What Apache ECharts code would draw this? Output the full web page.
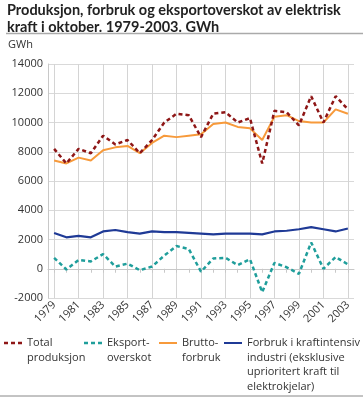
<!DOCTYPE html>
<html>
<head>
<meta charset="utf-8">
<script src="https://cdn.jsdelivr.net/npm/echarts@6/dist/echarts.min.js"></script>
<style>html,body{margin:0;padding:0;background:#fff}#c{width:363px;height:397px}</style>
</head>
<body>
<div id="c"></div>
<script>
const years = ['1979','1980','1981','1982','1983','1984','1985','1986','1987','1988','1989','1990','1991','1992','1993','1994','1995','1996','1997','1998','1999','2000','2001','2002','2003'];
const totalProduksjon = [8200,7200,8200,7900,9100,8500,8800,7900,8800,10000,10600,10500,9000,10600,10700,10000,10300,7200,10800,10700,9800,11800,10000,11800,10900];
const eksportoverskot = [750,-50,600,500,1000,150,350,-100,150,900,1550,1350,-200,700,750,250,650,-1600,400,100,-350,1800,0,800,300];
const bruttoforbruk = [7400,7200,7600,7400,8100,8300,8400,7900,8600,9100,9000,9100,9200,9900,10000,9700,9600,8800,10400,10500,10100,10000,10000,10900,10600];
const kraftintensiv = [2450,2150,2250,2150,2550,2650,2500,2400,2550,2500,2500,2450,2400,2350,2400,2400,2400,2350,2550,2600,2700,2850,2700,2550,2750];
const yTicks = {min: -2000, max: 14000, interval: 2000};

const FONT = '"Open Sans", sans-serif';
const names = {
  total: 'Total\nproduksjon',
  eksport: 'Eksport-\noverskot',
  brutto: 'Brutto-\nforbruk',
  ind: 'Forbruk i kraftintensiv\nindustri (eksklusive\nuprioritert kraft til\nelektrokjelar)'
};
const colors = {total: '#8e1616', eksport: '#1f9e9b', brutto: '#f79a3b', ind: '#1f3a96'};
const LH = 14.5;
const IW = 18;
// icon drawn on the first text line; tiny corner dots fix the icon box to the text block
function iconPath(lines, dashed, thick) {
  const H = lines * LH;
  const y0 = LH / 2 - thick / 2;
  let p = 'path://M0,0h0.01v0.01h-0.01z M' + (IW - 0.01) + ',' + (H - 0.01) + 'h0.01v0.01h-0.01z ';
  if (dashed) {
    [0, 7, 14].forEach(x => { p += 'M' + x + ',' + y0 + 'h4v' + thick + 'h-4z '; });
  } else {
    p += 'M0,' + y0 + 'h' + IW + 'v' + thick + 'h-' + IW + 'z';
  }
  return p;
}
function legendFor(name, left, lines, dashed, thick) {
  return {
    data: [{name: name, icon: iconPath(lines, dashed, thick)}],
    left: left,
    top: 343 - LH / 2,
    padding: 0,
    itemWidth: IW,
    itemHeight: lines * LH,
    selectedMode: false,
    textStyle: {fontFamily: FONT, fontSize: 11, color: '#333', lineHeight: LH}
  };
}

const chart = echarts.init(document.getElementById('c'), null, {renderer: 'canvas'});
chart.setOption({
  animation: false,
  backgroundColor: '#fff',
  title: [
    {text: 'Produksjon, forbruk og eksportoverskot av elektrisk\nkraft i oktober. 1979-2003. GWh', left: 7, top: 2, padding: 0,
     textStyle: {fontFamily: 'Lato, sans-serif', fontSize: 14.5, fontWeight: 'bold', color: '#222', lineHeight: 17}},
    {text: 'GWh', left: 8, top: 39, padding: 0, textStyle: {fontFamily: FONT, fontSize: 11, fontWeight: 'normal', color: '#333'}}
  ],
  graphic: [
    {type: 'line', shape: {x1: 6, y1: 33.5, x2: 363, y2: 33.5}, style: {stroke: '#aaa', lineWidth: 1.5}},
    {type: 'line', shape: {x1: 0, y1: 396, x2: 363, y2: 396}, style: {stroke: '#888', lineWidth: 1}}
  ],
  legend: [
    legendFor(names.total, 4, 2, true, 2.5),
    legendFor(names.eksport, 84, 2, true, 2.5),
    legendFor(names.brutto, 159, 2, false, 2),
    legendFor(names.ind, 224, 4, false, 2.2)
  ],
  grid: {left: 48, right: 9, top: 64, bottom: 99, containLabel: false},
  xAxis: [
    {type: 'category', data: years, boundaryGap: true, position: 'bottom',
     axisLine: {show: false, onZero: false}, axisTick: {show: false},
     axisLabel: {interval: 1, rotate: 45, fontFamily: FONT, fontSize: 11, color: '#333', margin: 5},
     splitLine: {show: true, interval: 1, alignWithLabel: true, lineStyle: {color: '#d4d4d4', width: 1}}},
    {type: 'category', data: years, boundaryGap: true, position: 'top',
     axisLine: {show: true, onZero: true, lineStyle: {color: '#c8c8c8', width: 1}},
     axisTick: {show: true, inside: true, alignWithLabel: true, interval: 0, length: 4, lineStyle: {color: '#c8c8c8'}},
     axisLabel: {show: false}, splitLine: {show: false}}
  ],
  yAxis: {type: 'value', min: yTicks.min, max: yTicks.max, interval: yTicks.interval,
    axisLine: {show: true, lineStyle: {color: '#c8c8c8'}}, axisTick: {show: false},
    axisLabel: {fontFamily: FONT, fontSize: 11, color: '#333', margin: 5, formatter: v => String(v)},
    splitLine: {lineStyle: {color: '#d9d9d9', width: 1}}},
  series: [
    {name: names.brutto, type: 'line', data: bruttoforbruk, symbol: 'none', color: colors.brutto,
     lineStyle: {color: colors.brutto, width: 2}},
    {name: names.ind, type: 'line', data: kraftintensiv, symbol: 'none', color: colors.ind,
     lineStyle: {color: colors.ind, width: 2.2}},
    {name: names.eksport, type: 'line', data: eksportoverskot, symbol: 'none', color: colors.eksport,
     lineStyle: {color: colors.eksport, width: 2.5, type: [4, 3]}},
    {name: names.total, type: 'line', data: totalProduksjon, symbol: 'none', color: colors.total,
     lineStyle: {color: colors.total, width: 2.5, type: [4, 3]}}
  ]
});
</script>
</body>
</html>
